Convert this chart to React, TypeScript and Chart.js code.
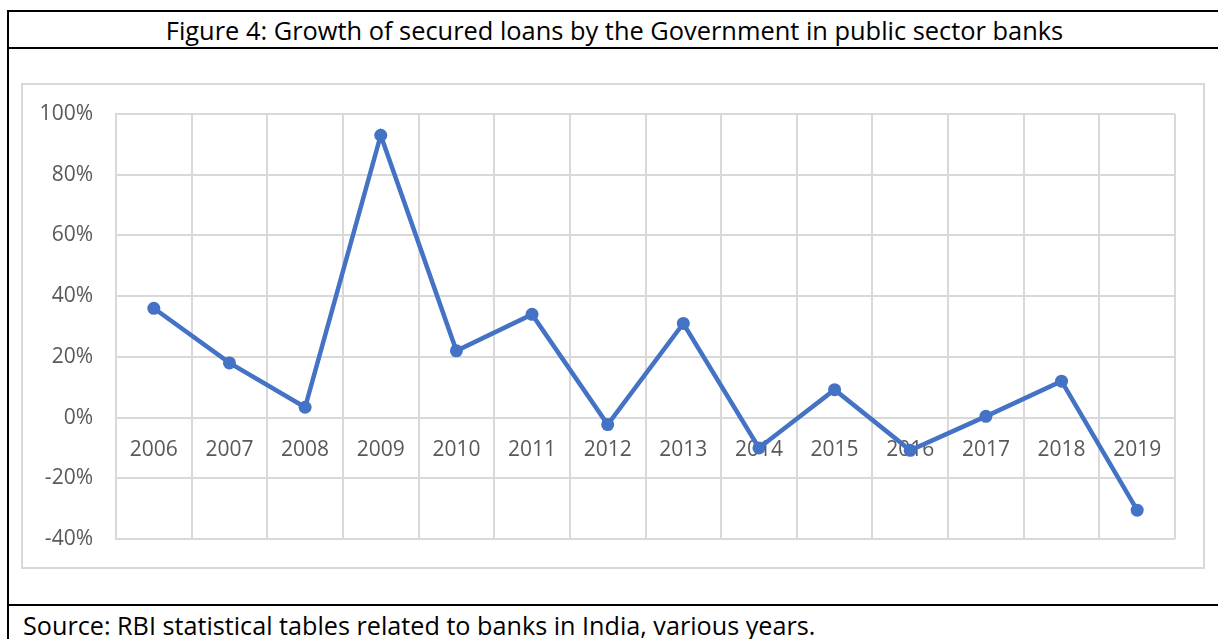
import React, { useEffect, useRef } from "react";
import { Chart, registerables } from "chart.js";

Chart.register(...registerables);

const years = ["2006", "2007", "2008", "2009", "2010", "2011", "2012", "2013", "2014", "2015", "2016", "2017", "2018", "2019"];
const growth = [36, 18, 3.4, 93, 22, 34, -2.3, 31, -10, 9.2, -10.8, 0.4, 12, -30.5];
const yMin = -40;
const yMax = 100;
const yStep = 20;
const titleText = "Figure 4: Growth of secured loans by the Government in public sector banks";
const sourceText = "Source: RBI statistical tables related to banks in India, various years.";

const FONT = "'Open Sans', 'Noto Sans', sans-serif";
const GRID = "#d9d9d9";

export default function App() {
  const canvasRef = useRef<HTMLCanvasElement | null>(null);

  useEffect(() => {
    document.body.style.overflow = "hidden";
    const ctx = canvasRef.current;
    if (!ctx) return;
    const chart = new Chart(ctx, {
      type: "line",
      data: {
        labels: years,
        datasets: [
          {
            data: growth,
            borderColor: "#4472C4",
            backgroundColor: "#4472C4",
            borderWidth: 4.5,
            pointRadius: 6.5,
            pointHoverRadius: 6.5,
            pointBackgroundColor: "#4472C4",
            pointBorderWidth: 0,
            tension: 0,
            clip: false as any,
          },
        ],
      },
      options: {
        animation: false,
        responsive: false,
        maintainAspectRatio: false,
        layout: { padding: { top: 114, bottom: 100, right: 43, left: 0 } },
        plugins: { legend: { display: false }, title: { display: false }, tooltip: { enabled: false } },
        scales: {
          x: {
            type: "category",
            position: { y: 0 } as any,
            offset: true,
            grid: { offset: true, color: GRID, lineWidth: 2, drawTicks: false },
            border: { color: GRID, width: 2 },
            ticks: { color: "#595959", font: { family: FONT, size: 21 }, padding: 20, maxRotation: 0, autoSkip: false },
          },
          y: {
            min: yMin,
            max: yMax,
            grid: { color: GRID, lineWidth: 2, drawTicks: false },
            border: { color: GRID, width: 2 },
            ticks: {
              stepSize: yStep,
              color: "#595959",
              font: { family: FONT, size: 21 },
              padding: 23,
              callback: (v: any) => `${v}%`,
            },
            afterFit: (scale: any) => {
              scale.width = 116;
            },
          },
        },
      },
    });
    return () => chart.destroy();
  }, []);

  return (
    <div style={{ position: "fixed", left: 0, top: 0, width: 1218, height: 639, overflow: "hidden", background: "#fff" }}>
      <div style={{ position: "absolute", left: 7, top: 10, width: 1240, height: 660, border: "2px solid #000", boxSizing: "border-box" }} />
      <div style={{ position: "absolute", left: 7, top: 47, width: 1240, height: 2, background: "#000" }} />
      <div style={{ position: "absolute", left: 7, top: 604, width: 1240, height: 2, background: "#000" }} />
      <div
        style={{
          position: "absolute",
          left: 9,
          top: 12,
          width: 1211,
          height: 35,
          display: "flex",
          alignItems: "center",
          justifyContent: "center",
          fontFamily: FONT,
          fontSize: 25.4,
          color: "#000",
          whiteSpace: "nowrap",
        }}
      >
        {titleText}
      </div>
      <div style={{ position: "absolute", left: 21, top: 83, width: 1184, height: 486, border: "2px solid #d9d9d9", boxSizing: "border-box" }} />
      <div
        style={{
          position: "absolute",
          left: 23,
          top: 606,
          height: 38,
          display: "flex",
          alignItems: "center",
          fontFamily: FONT,
          fontSize: 25.2,
          color: "#000",
          whiteSpace: "nowrap",
        }}
      >
        {sourceText}
      </div>
      <canvas ref={canvasRef} width={1218} height={639} style={{ position: "absolute", left: 0, top: 0, width: 1218, height: 639 }} />
    </div>
  );
}
